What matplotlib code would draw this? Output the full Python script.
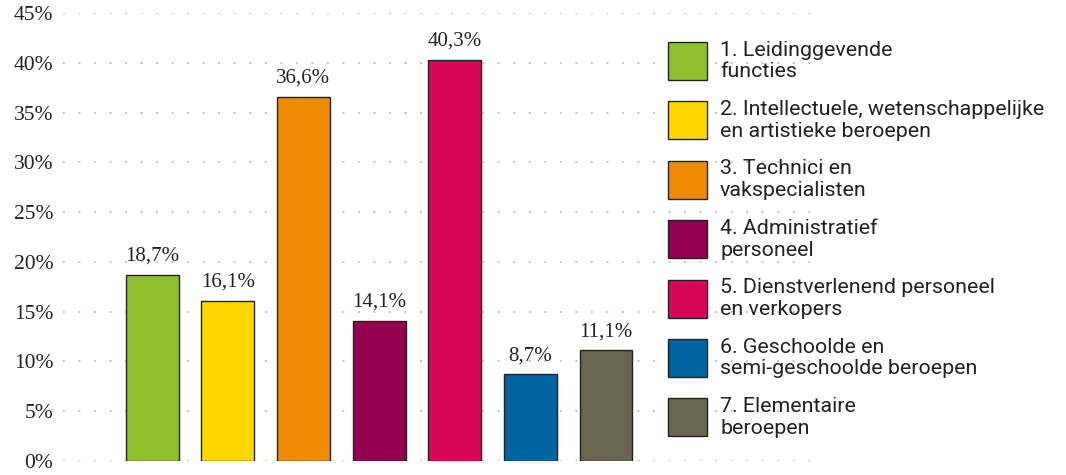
import numpy as np
import matplotlib
matplotlib.use("Agg")
import matplotlib.pyplot as plt
from matplotlib.patches import Rectangle

# data
categories = ["1. Leidinggevende\nfuncties",
              "2. Intellectuele, wetenschappelijke\nen artistieke beroepen",
              "3. Technici en\nvakspecialisten",
              "4. Administratief\npersoneel",
              "5. Dienstverlenend personeel\nen verkopers",
              "6. Geschoolde en\nsemi-geschoolde beroepen",
              "7. Elementaire\nberoepen"]
values = [18.7, 16.1, 36.6, 14.1, 40.3, 8.7, 11.1]
colors = ["#8dc02a", "#ffd700", "#ef8a05", "#960050", "#d80758", "#00649f", "#67674f"]
yticks = [0, 5, 10, 15, 20, 25, 30, 35, 40, 45]

serif = "Liberation Serif"

fig = plt.figure(figsize=(10.66, 4.75), dpi=100)
ax = fig.add_axes([63 / 1066, 1 - 461 / 475, (820 - 63) / 1066, (461 - 13) / 475])

x = np.arange(len(values))
ax.bar(x, values, width=0.7, color=colors, edgecolor="#222222", linewidth=1.0, zorder=3)

for xi, v in zip(x, values):
    ax.annotate(f"{v:.1f}%".replace(".", ","), (xi, v), xytext=(0, 10),
                textcoords="offset points", ha="center", va="baseline",
                fontsize=15, family=serif, color="#222222")

ax.set_xlim(-1.18, 8.83)
ax.set_ylim(0, 45)
ax.set_yticks(yticks)
ax.set_yticklabels([f"{t}%" for t in yticks], family=serif, fontsize=15.5, color="#222222")
ax.set_xticks([])
ax.tick_params(axis="y", length=0, pad=7)
for s in ax.spines.values():
    s.set_visible(False)
for t in yticks:
    ax.axhline(t, color="#bbbbbb", linewidth=1.3, linestyle=(0, (1.0, 7.6)), zorder=1)

# legend drawn by hand
W, H = 1066, 475
top0 = 42
step = 59.4
for i, (lab, c) in enumerate(zip(categories, colors)):
    top = top0 + i * step
    fig.patches.append(Rectangle((668 / W, 1 - (top + 38) / H), 39 / W, 38 / H,
                                 transform=fig.transFigure, facecolor=c,
                                 edgecolor="#222222", linewidth=1.0, zorder=5))
    fig.text(720 / W, 1 - (top + 19) / H, lab, ha="left", va="center",
             family="Roboto", fontsize=15.4, linespacing=1.18, color="#222222", zorder=6)

fig.savefig("out.png", dpi=100)
